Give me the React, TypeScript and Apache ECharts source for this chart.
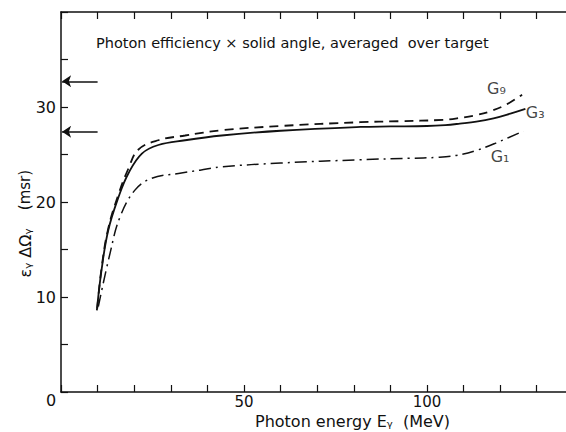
import React, { useEffect, useRef } from "react";
import * as echarts from "echarts";

// Photon energy (MeV) vs efficiency x solid angle (msr)
const g9Data: number[][] = [
  [9.9, 8.8], [11.1, 13.1], [12.9, 17.2], [15.7, 20.8], [18.4, 23.5], [21.1, 25.5],
  [26.6, 26.5], [33.9, 27.0], [43.9, 27.55], [60, 28.0], [81.8, 28.4], [92, 28.5],
  [104.5, 28.65], [109, 28.85], [113.5, 29.15], [117.3, 29.55], [121.9, 30.3], [126, 31.3],
];
const g3Data: number[][] = [
  [9.8, 8.6], [11.1, 12.9], [12.9, 17.0], [15.7, 20.5], [18.4, 23.0], [22.1, 25.1],
  [26.6, 26.0], [33.9, 26.5], [43.9, 27.0], [60, 27.5], [81.8, 27.9], [90, 27.95],
  [100, 28.0], [105, 28.1], [109, 28.25], [113.5, 28.45], [118.2, 28.8], [122.8, 29.3],
  [126.9, 29.8],
];
const g1Data: number[][] = [
  [10.2, 9.0], [13.4, 14.6], [16.1, 18.4], [20.2, 21.25], [24.8, 22.5], [32.1, 23.0],
  [38, 23.35], [43.9, 23.7], [60, 24.1], [81.8, 24.45], [95, 24.6], [103, 24.7],
  [108, 24.9], [113.7, 25.45], [120, 26.4], [126.3, 27.45],
];
const arrowLevels: number[] = [32.7, 27.4];
const curveLabels: (number | string)[][] = [
  [119, 32.0, "G\u2089"],
  [129.6, 29.4, "G\u2083"],
  [120, 24.8, "G\u2081"],
];
const xTickValues: number[] = [0, 10, 20, 30, 40, 50, 60, 70, 80, 90, 100, 110, 120, 130];
const xTickLabels: number[] = [50, 100];
const yTickLabels: number[] = [10, 20, 30];

const FONT = "DejaVu Sans";
const INK = "#111";

export default function App() {
  const ref = useRef<HTMLDivElement>(null);
  useEffect(() => {
    if (!ref.current) return;
    const chart = echarts.init(ref.current, null, { renderer: "svg" });
    const xCommon = {
      type: "value" as const,
      min: 0,
      max: 138,
      axisLine: { show: true, lineStyle: { color: INK, width: 1.5 } },
      axisTick: {
        show: true,
        inside: true,
        length: 7,
        customValues: xTickValues,
        lineStyle: { color: INK, width: 1.2 },
      },
      splitLine: { show: false },
    };
    chart.setOption({
      animation: false,
      backgroundColor: "#fff",
      grid: { left: 61, right: 0, top: 12, bottom: 40 },
      xAxis: [
        {
          ...xCommon,
          position: "bottom",
          axisLabel: {
            show: true,
            margin: 3,
            color: INK,
            fontFamily: FONT,
            fontSize: 15,
            lineHeight: 14,
            customValues: xTickLabels,
          },
        },
        { ...xCommon, position: "top", axisLabel: { show: false } },
      ],
      yAxis: {
        type: "value",
        min: 0,
        max: 40,
        interval: 5,
        axisLine: { show: true, lineStyle: { color: INK, width: 1.5 } },
        axisTick: { show: true, inside: true, length: 7, lineStyle: { color: INK, width: 1.2 } },
        splitLine: { show: false },
        axisLabel: {
          margin: 5,
          color: INK,
          fontFamily: FONT,
          fontSize: 16,
          formatter: (v: number) => (yTickLabels.includes(v) ? String(v) : ""),
        },
      },
      graphic: [
        {
          type: "text",
          left: 96,
          top: 35,
          style: {
            text: "Photon efficiency \u00d7 solid angle, averaged  over target",
            fontFamily: FONT,
            fontSize: 14.5,
            fill: INK,
          },
        },
        {
          type: "text",
          left: 255,
          top: 413,
          style: {
            text: "Photon energy E\u1d67  (MeV)",
            fontFamily: FONT,
            fontSize: 16,
            lineHeight: 16,
            fill: INK,
          },
        },
        {
          type: "text",
          x: 25,
          y: 253,
          rotation: Math.PI / 2,
          style: {
            text: "\u03b5\u1d67 \u0394\u03a9\u1d67",
            fontFamily: FONT,
            fontSize: 16,
            fill: INK,
            align: "center",
            verticalAlign: "middle",
          },
        },
        {
          type: "text",
          x: 25,
          y: 190,
          rotation: Math.PI / 2,
          style: {
            text: "(msr)",
            fontFamily: FONT,
            fontSize: 15,
            fill: INK,
            align: "center",
            verticalAlign: "middle",
          },
        },
        {
          type: "text",
          left: 46,
          top: 392,
          style: { text: "0", fontFamily: FONT, fontSize: 16, fill: INK },
        },
      ],
      series: [
        {
          name: "G9",
          type: "line",
          data: g9Data,
          smooth: 0.4,
          showSymbol: false,
          symbol: "none",
          lineStyle: { color: INK, width: 1.8, type: [9, 6] },
        },
        {
          name: "G3",
          type: "line",
          data: g3Data,
          smooth: 0.4,
          showSymbol: false,
          symbol: "none",
          lineStyle: { color: INK, width: 1.8, type: "solid" },
        },
        {
          name: "G1",
          type: "line",
          data: g1Data,
          smooth: 0.4,
          showSymbol: false,
          symbol: "none",
          lineStyle: { color: INK, width: 1.5, type: [12, 5, 2, 5] },
        },
        {
          name: "arrows",
          type: "lines",
          coordinateSystem: "cartesian2d",
          symbol: ["none", "arrow"],
          symbolSize: 9,
          lineStyle: { color: INK, width: 1.5, opacity: 1, curveness: 0 },
          data: arrowLevels.map((v) => ({ coords: [[10, v], [0.3, v]] })),
        },
        {
          name: "labels",
          type: "scatter",
          symbolSize: 1,
          itemStyle: { color: "rgba(0,0,0,0)" },
          data: curveLabels,
          label: {
            show: true,
            position: "inside",
            color: INK,
            fontFamily: FONT,
            fontSize: 16,
            formatter: (p: any) => p.data[2],
          },
        },
      ],
    });
    return () => chart.dispose();
  }, []);
  return (
    <div
      ref={ref}
      style={{ position: "fixed", left: 0, top: 0, width: 566, height: 432, background: "#fff" }}
    />
  );
}
